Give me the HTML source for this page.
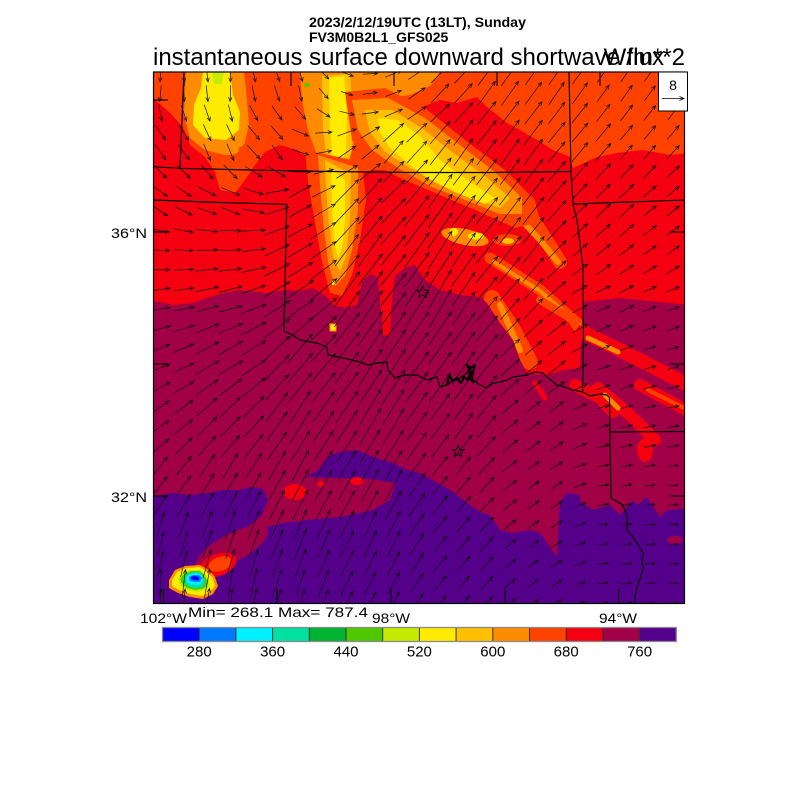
<!DOCTYPE html>
<html><head><meta charset="utf-8"><style>
html,body{margin:0;padding:0;background:#fff;}
svg{display:block;}
text{font-family:"Liberation Sans",Arial,sans-serif;fill:#000;}
</style></head><body>
<svg width="800" height="800" viewBox="0 0 800 800" xmlns="http://www.w3.org/2000/svg">
<defs><clipPath id="c"><rect x="153.5" y="72" width="531" height="531.5"/></clipPath></defs>
<g clip-path="url(#c)">
<rect x="150" y="68" width="540" height="545" fill="#FF4200"/>
<!-- red -->
<polygon fill="#F50011" points="150,95 170,113 183,127 190,145 205,157 215,172 220,190 235,193 245,180 255,165 265,152 280,145 297,150 308,158 330,162 357,175 373,170 393,170 410,150 420,108 440,100 457,103 477,97 487,107 507,123 520,130 537,140 553,150 570,157 573,168 597,157 617,153 643,150 670,155 690,153 690,610 150,610"/>
<!-- top-left orange/yellow -->
<polygon fill="#FF8C00" points="186,72 244,72 247,100 249,125 244,145 225,155 205,150 190,138 184,115 185,90"/>
<ellipse cx="228" cy="150" rx="11" ry="5" fill="#FF8C00"/>
<polygon fill="#FFEB00" points="203,72 230,72 233,95 240,112 239,130 226,140 205,138 193,125 194,105 201,88"/>
<polygon fill="#C5EC00" points="212,72 224,72 222,84 214,84"/>
<!-- top center -->
<polygon fill="#FF8C00" points="300,72 440,72 430,86 410,95 390,98 370,96 358,110 355,140 348,160 318,158 308,130 302,100"/>
<polygon fill="#FFC000" points="322,76 350,74 353,110 352,150 346,172 328,168 323,130"/>
<polygon fill="#FFEB00" points="329,78 344,76 347,110 346,150 341,168 333,164 330,130"/>
<ellipse cx="307" cy="85" rx="3" ry="2" fill="#50C800"/>
<!-- vertical streak lower -->
<polygon fill="#FF4200" points="305,150 362,162 366,200 360,240 352,275 342,296 330,293 322,262 315,222 308,182"/>
<polygon fill="#FF8C00" points="318,155 358,168 358,210 352,250 345,276 335,286 328,262 323,220 320,185"/>
<polygon fill="#FFC000" points="325,160 351,174 350,220 346,256 340,272 333,256 328,215 326,185"/>
<polygon fill="#FFEB00" points="331,168 345,180 345,220 342,248 338,258 334,240 332,205"/>
<!-- diagonal band -->
<g fill="none" stroke-linecap="round" stroke-linejoin="round">
<polyline stroke="#FF4200" stroke-width="14" points="480,180 530,215 560,262"/>
<polyline stroke="#FF8C00" stroke-width="6" points="512,210 540,240 558,262"/>
<polyline stroke="#FF4200" stroke-width="11" points="490,258 540,290 585,330"/>
<polyline stroke="#FF8C00" stroke-width="4" points="494,262 540,291 582,328"/>
<polyline stroke="#FF4200" stroke-width="16" points="492,298 512,328 530,362"/>
<polyline stroke="#FF8C00" stroke-width="6" points="500,305 520,350"/>
<polyline stroke="#FF4200" stroke-width="8" points="540,300 570,318 590,345"/>
</g>
<polygon fill="#FF4200" points="345,92 385,88 425,108 465,140 505,170 535,200 540,222 515,228 480,212 440,195 400,178 370,162 352,140"/>
<polygon fill="#FF8C00" points="352,100 388,98 425,118 460,145 495,172 522,198 522,214 500,214 465,200 430,186 398,168 372,150 358,130"/>
<polygon fill="#FFC000" points="365,110 392,110 422,128 452,152 485,176 510,198 500,208 470,198 438,184 410,168 385,152 370,132"/>
<polygon fill="#FFEB00" points="378,118 398,120 420,136 440,160 470,182 495,198 485,204 455,192 428,178 410,165 390,148 380,132"/>
<ellipse cx="465" cy="237" rx="24" ry="8" transform="rotate(12 465 237)" fill="#FF8C00"/>
<ellipse cx="476" cy="236" rx="8" ry="3.5" fill="#FFEB00"/>
<ellipse cx="454" cy="232" rx="4" ry="4" fill="#FFEB00"/>
<ellipse cx="507" cy="240" rx="14" ry="6" fill="#FF4200"/>
<ellipse cx="508" cy="241" rx="6" ry="3" fill="#FFC000"/>
<!-- crimson -->
<polygon fill="#A10046" points="150,300 173,305 193,303 207,298 223,293 240,290 267,293 287,290 300,291 313,288 327,297 333,305 345,308 357,305 362,282 370,274 378,277 380,300 383,335 390,336 392,300 395,276 405,268 415,265 425,280 440,290 460,295 480,297 487,303 500,323 513,340 520,360 527,373 547,375 563,370 580,368 583,302 620,298 690,305 690,610 150,610"/>
<!-- right streaks -->
<g fill="none" stroke-linecap="round" stroke-linejoin="round">
<polyline stroke="#F50011" stroke-width="14" points="583,332 620,350 690,386"/>
<polyline stroke="#FF8C00" stroke-width="5" points="588,338 618,352"/>
<polyline stroke="#F50011" stroke-width="12" points="598,388 630,415 655,440"/>
<polyline stroke="#F50011" stroke-width="12" points="640,385 690,412"/>
<polyline stroke="#FF4200" stroke-width="4" points="648,390 690,411"/>
<polyline stroke="#F50011" stroke-width="12" points="575,385 600,398 613,412"/>
<polyline stroke="#FF8C00" stroke-width="5" points="605,395 618,408"/>
<polyline stroke="#F50011" stroke-width="5" points="535,383 545,398"/>
</g>
<ellipse cx="645" cy="450" rx="8" ry="12" fill="#F50011"/>
<rect x="330" y="324" width="6" height="7" fill="#FFEB00" stroke="#FF8C00" stroke-width="1"/>
<rect x="332" y="281" width="4" height="4" fill="#FFEB00"/>
<!-- purple -->
<polygon fill="#55008A" points="150,497 173,493 190,495 207,493 223,490 240,490 250,487 265,489 280,484 300,480 318,470 328,456 340,452 357,450 373,457 393,463 407,470 420,473 450,490 480,512 490,515 500,530 513,533 530,530 540,533 557,557 560,502 567,493 580,495 580,502 593,510 610,505 620,515 633,500 637,505 647,497 660,517 667,510 690,508 690,610 150,610"/>
<polygon fill="#A10046" points="262,487 285,480 310,477 337,478 370,479 396,483 390,500 373,510 340,517 307,520 283,523 267,527 252,536 240,545 225,556 212,566 200,570 194,566 200,556 212,546 225,539 247,528 262,515 268,500"/>
<ellipse cx="295" cy="492" rx="12" ry="8" fill="#F50011"/>
<ellipse cx="321" cy="484" rx="4" ry="3" fill="#F50011"/>
<ellipse cx="357" cy="481" rx="7" ry="4" fill="#F50011"/>
<ellipse cx="675" cy="540" rx="8" ry="4" fill="#A10046"/>
<!-- storm -->
<ellipse cx="232" cy="548" rx="40" ry="14" transform="rotate(-28 232 548)" fill="#A10046"/>
<ellipse cx="218" cy="565" rx="19" ry="11" transform="rotate(-20 218 565)" fill="#F50011"/>
<ellipse cx="220" cy="564" rx="12" ry="7" transform="rotate(-20 220 564)" fill="#FF4200"/>
<polygon fill="#FF8C00" points="169,580 175,570 185,566 200,565 209,570 215,577 218,586 213,594 203,599 190,597 178,593 169,588"/>
<polygon fill="#FFEB00" points="172,580 177,572 186,568 200,567 207,572 213,578 215,586 210,592 202,596 190,594 179,590 172,586"/>
<polygon fill="#C5EC00" points="178,579 182,573 190,570 200,570 205,574 209,580 210,586 205,590 197,592 188,590 180,586"/>
<polygon fill="#50C800" points="180,579 184,574 191,571 200,571 204,575 207,580 207,586 202,589 195,590 187,588 182,584"/>
<polygon fill="#00E0A0" points="183,579 187,574 193,572 200,572 203,576 205,581 204,586 199,588 192,588 186,585"/>
<polygon fill="#00F0FF" points="186,578 190,574 196,573 201,575 203,580 201,584 196,585 190,584 187,582"/>
<polygon fill="#0078FF" points="189,577 193,575 199,575 202,578 200,582 195,582 190,581"/>
<polygon fill="#0000FF" points="191,577 195,576 199,577 199,580 195,580 191,579"/>
<!-- borders -->
<g fill="none" stroke="#000" stroke-width="1.2" stroke-linejoin="round">
<polyline points="184,72 180,168"/>
<polyline points="153.5,166.7 180,168.3 250,170 330,171.5 410,172.5 490,172.5 571,171.5"/>
<polyline points="569,72 571,171.5 573,204 577,220 583,267 583.5,340 582.5,392"/>
<polyline points="573,204 630,202 686,200"/>
<polyline points="153.5,200 220,202.5 286.7,204.3 284,331"/>
<polyline points="284,331 293,335 300,340 310,342 317,343 327,347 328,355 343,358 352,360 360,362 368,365 377,363 387,362 388,370 395,378 401,376 407,375 417,375 427,380 437,377 440,387 447,385 452,381 457,380 467,373 470,367 473,380 480,385 487,388 493,383 500,382 507,380 513,377 527,375 535,372 543,373 547,377 557,385 565,387 573,390 583,392 590,396 600,394 607,395 610,398"/>
<polyline points="609.5,397 610,440 611,498 623,505 627,517 627,530 633,537 637,543 643,553 642,563 643,567 642,573 637,587 635,597 635,604"/>
<polyline points="609.5,432 686,431.5"/>
<polyline stroke-width="2.2" points="447,385 449,375 453,381 457,378 461,383 464,377 468,380 470,372 467,365 471,368 475,365 473,372 470,378 474,383"/>
<polygon stroke-width="0.9" points="422.7,285.8 424.3,290.1 428.9,290.3 425.3,293.1 426.5,297.6 422.7,295 418.9,297.6 420.1,293.1 416.5,290.3 421.1,290.1"/>
<polygon stroke-width="0.9" points="458.3,445 459.9,449.3 464.5,449.5 460.9,452.3 462.1,456.8 458.3,454.2 454.5,456.8 455.7,452.3 452.1,449.5 456.7,449.3"/>
</g>
<path id="arrp" d="" fill="none" stroke="#111" stroke-width="0.7"/>
</g>
<!-- frame -->
<rect x="153.5" y="72" width="531" height="531.5" fill="none" stroke="#000" stroke-width="1.2"/>
<g stroke="#000" stroke-width="1.1">
<line x1="153.5" y1="100" x2="168" y2="100"/><line x1="153.5" y1="232" x2="168" y2="232"/>
<line x1="153.5" y1="364" x2="168" y2="364"/><line x1="153.5" y1="496" x2="168" y2="496"/>
<line x1="670" y1="100" x2="684.5" y2="100"/><line x1="670" y1="232" x2="684.5" y2="232"/>
<line x1="670" y1="364" x2="684.5" y2="364"/><line x1="670" y1="496" x2="684.5" y2="496"/>
<line x1="163.5" y1="589" x2="163.5" y2="603.5"/><line x1="277" y1="589" x2="277" y2="603.5"/>
<line x1="391" y1="589" x2="391" y2="603.5"/><line x1="505" y1="589" x2="505" y2="603.5"/>
<line x1="618.5" y1="589" x2="618.5" y2="603.5"/>
<line x1="184" y1="72" x2="184" y2="86"/><line x1="291" y1="72" x2="291" y2="86"/>
<line x1="394" y1="72" x2="394" y2="86"/><line x1="497" y1="72" x2="497" y2="86"/>
<line x1="600" y1="72" x2="600" y2="86"/>
</g>
<!-- ref box -->
<rect x="658.5" y="72" width="29" height="39" fill="#fff" stroke="#000" stroke-width="1"/>
<text x="673" y="90" font-size="14" text-anchor="middle">8</text>
<path d="M662 98.5 L684 98.5 M679.5 96.5 L684 98.5 L679.5 100.5" fill="none" stroke="#000" stroke-width="0.8"/>
<!-- titles -->
<text x="309" y="27" font-size="14" font-weight="bold" textLength="217" lengthAdjust="spacingAndGlyphs">2023/2/12/19UTC (13LT), Sunday</text>
<text x="309" y="42" font-size="14" font-weight="bold">FV3M0B2L1_GFS025</text>
<text x="153" y="65" font-size="24">instantaneous surface downward shortwave flux</text>
<text x="685" y="65" font-size="24" text-anchor="end">W/m**2</text>
<!-- axis labels -->
<text x="111" y="238" font-size="14" textLength="36" lengthAdjust="spacingAndGlyphs">36°N</text>
<text x="111" y="502" font-size="14" textLength="36" lengthAdjust="spacingAndGlyphs">32°N</text>
<text x="140" y="623" font-size="14" textLength="47" lengthAdjust="spacingAndGlyphs">102°W</text>
<text x="372" y="623" font-size="14" textLength="38" lengthAdjust="spacingAndGlyphs">98°W</text>
<text x="599" y="623" font-size="14" textLength="38" lengthAdjust="spacingAndGlyphs">94°W</text>
<text x="188" y="617" font-size="14" textLength="180" lengthAdjust="spacingAndGlyphs">Min= 268.1 Max= 787.4</text>
<!-- colorbar -->
<g>
<rect x="162.5" y="627.5" width="36.7" height="14" fill="#0000FF"/>
<rect x="199.2" y="627.5" width="36.7" height="14" fill="#0078FF"/>
<rect x="235.9" y="627.5" width="36.7" height="14" fill="#00F0FF"/>
<rect x="272.6" y="627.5" width="36.7" height="14" fill="#00E0A0"/>
<rect x="309.3" y="627.5" width="36.7" height="14" fill="#00B432"/>
<rect x="346" y="627.5" width="36.7" height="14" fill="#50C800"/>
<rect x="382.7" y="627.5" width="36.7" height="14" fill="#C5EC00"/>
<rect x="419.4" y="627.5" width="36.7" height="14" fill="#FFEB00"/>
<rect x="456.1" y="627.5" width="36.7" height="14" fill="#FFC000"/>
<rect x="492.8" y="627.5" width="36.7" height="14" fill="#FF8C00"/>
<rect x="529.5" y="627.5" width="36.7" height="14" fill="#FF4200"/>
<rect x="566.2" y="627.5" width="36.7" height="14" fill="#F50011"/>
<rect x="602.9" y="627.5" width="36.7" height="14" fill="#A10046"/>
<rect x="639.6" y="627.5" width="36.7" height="14" fill="#55008A"/>
<g stroke="#333" stroke-width="1">
<line x1="199.2" y1="627.5" x2="199.2" y2="641.5"/><line x1="235.9" y1="627.5" x2="235.9" y2="641.5"/>
<line x1="272.6" y1="627.5" x2="272.6" y2="641.5"/><line x1="309.3" y1="627.5" x2="309.3" y2="641.5"/>
<line x1="346" y1="627.5" x2="346" y2="641.5"/><line x1="382.7" y1="627.5" x2="382.7" y2="641.5"/>
<line x1="419.4" y1="627.5" x2="419.4" y2="641.5"/><line x1="456.1" y1="627.5" x2="456.1" y2="641.5"/>
<line x1="492.8" y1="627.5" x2="492.8" y2="641.5"/><line x1="529.5" y1="627.5" x2="529.5" y2="641.5"/>
<line x1="566.2" y1="627.5" x2="566.2" y2="641.5"/><line x1="602.9" y1="627.5" x2="602.9" y2="641.5"/>
<line x1="639.6" y1="627.5" x2="639.6" y2="641.5"/>
</g>
<rect x="162.5" y="627.5" width="513.8" height="14" fill="none" stroke="#8a8a8a" stroke-width="1.3"/>
</g>
<g font-size="15" text-anchor="middle">
<text x="199.2" y="656.5">280</text><text x="272.6" y="656.5">360</text><text x="346" y="656.5">440</text>
<text x="419.4" y="656.5">520</text><text x="492.8" y="656.5">600</text><text x="566.2" y="656.5">680</text>
<text x="639.6" y="656.5">760</text>
</g>
</svg>
<script>
var P=[[160,88,95,16],[230,88,92,16],[295,88,80,16],[330,92,50,14],[355,92,15,12],[380,92,-15,15],[410,88,-35,20],[450,88,-48,26],[500,88,-55,30],[560,88,-55,27],[620,88,-55,20],[675,88,-55,17],
[160,150,55,18],[220,150,70,18],[280,150,55,18],[320,150,-10,16],[360,150,-40,22],[400,150,-50,30],[460,150,-55,33],[520,150,-55,32],[580,150,-50,25],[640,150,-50,18],
[160,200,35,17],[230,200,22,20],[300,200,-30,25],[360,200,-50,35],[440,200,-55,42],[520,200,-53,35],[600,200,-45,20],[670,200,-40,16],
[160,250,3,18],[230,250,-3,22],[300,250,-30,28],[360,250,-55,40],[440,250,-58,45],[520,250,-52,35],[600,250,-40,18],[670,250,-35,15],
[160,300,-8,19],[230,300,-15,24],[300,300,-35,32],[360,300,-57,45],[440,300,-60,45],[520,300,-48,28],[600,300,-25,15],[670,300,-20,13],
[160,360,-22,20],[230,360,-30,28],[300,360,-50,38],[380,360,-58,45],[460,360,-55,40],[540,360,-40,22],[610,360,-20,14],[670,360,-15,12],
[160,420,-35,21],[230,420,-45,28],[300,420,-58,38],[380,420,-60,42],[460,420,-55,32],[540,420,-38,17],[610,420,-15,12],[670,420,-10,12],
[160,480,-52,22],[230,480,-60,28],[300,480,-62,35],[380,480,-62,36],[460,480,-50,22],[540,480,-35,14],[610,480,-10,11],[670,480,-5,10],
[160,540,-75,25],[230,540,-72,30],[300,540,-68,32],[380,540,-65,30],[460,540,-50,20],[540,540,-35,13],[610,540,-5,10],[670,540,0,10],
[160,595,-88,28],[230,595,-82,30],[300,595,-72,28],[380,595,-62,25],[460,595,-50,18],[540,595,-35,12],[610,595,-5,10],[670,595,0,9]];
var d='';
function f(v){return v.toFixed(1);}
for(var i=0;i<28;i++){var y=603-i*19.6;
 for(var j=0;j<23;j++){var x=160.5+j*23.3;
  var sw=0,sa=0,sl=0;
  for(var k=0;k<P.length;k++){var dx=x-P[k][0],dy=y-P[k][1];var w=Math.pow(dx*dx+dy*dy+4,-1.5);sw+=w;sa+=w*P[k][2];sl+=w*P[k][3];}
  var a=sa/sw*Math.PI/180,L=sl/sw;
  var c=Math.cos(a),s=Math.sin(a);
  var x0=x-c*L/2,y0=y-s*L/2,x1=x+c*L/2,y1=y+s*L/2;
  var h=Math.min(4.5,L*0.33);
  var a1=a+Math.PI-0.4,a2=a+Math.PI+0.4;
  d+='M'+f(x0)+' '+f(y0)+'L'+f(x1)+' '+f(y1)+'M'+f(x1+h*Math.cos(a1))+' '+f(y1+h*Math.sin(a1))+'L'+f(x1)+' '+f(y1)+'L'+f(x1+h*Math.cos(a2))+' '+f(y1+h*Math.sin(a2));
 }}
document.getElementById('arrp').setAttribute('d',d);
</script>
</body></html>
